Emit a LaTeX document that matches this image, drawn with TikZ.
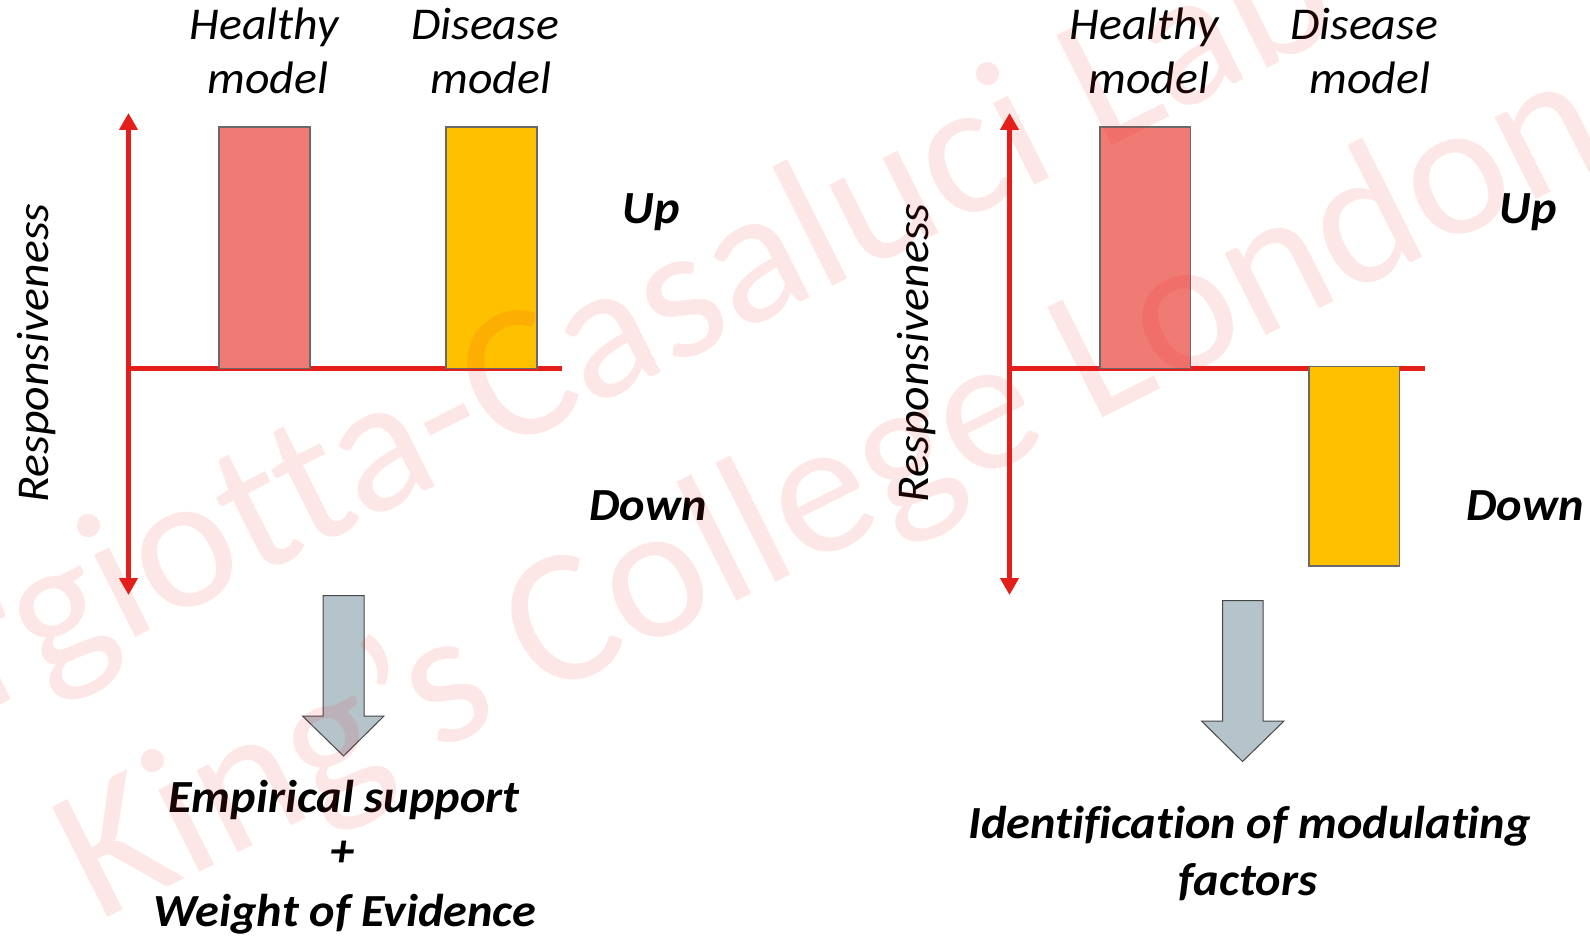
\documentclass[tikz,border=0pt]{standalone}
\usepackage{fontspec}
\setmainfont{Carlito}[FakeStretch=1.05,Ligatures=NoCommon]
\newfontfamily\wmfont{Carlito}[Ligatures=NoCommon]
\usetikzlibrary{arrows.meta}
\definecolor{axisred}{RGB}{227,30,27}
\definecolor{healthfill}{RGB}{240,122,116}
\definecolor{diseasefill}{RGB}{255,192,0}
\definecolor{barline}{RGB}{105,105,105}
\definecolor{blockfill}{RGB}{181,196,203}
\definecolor{blockline}{RGB}{70,70,70}
\definecolor{wmred}{RGB}{245,30,30}

\begin{document}
\begin{tikzpicture}[x=1pt,y=-1pt,
  vaxis/.style={draw=axisred,line width=5.5pt,
    {Triangle[width=18pt,length=17pt]}-{Triangle[width=18pt,length=17pt]}},
  haxis/.style={draw=axisred,line width=5.5pt},
  bar/.style={draw=barline,line width=1.3pt,rectangle,inner sep=0pt,outer sep=0pt},
  block/.style={draw=blockline,line width=1pt,fill=blockfill,line join=miter},
  lbl/.style={inner sep=0pt,font=\itshape\fontsize{45.5}{54}\selectfont},
  ud/.style={inner sep=0pt,font=\bfseries\itshape\fontsize{46}{55}\selectfont},
  wm/.style={inner sep=0pt,text=wmred,text opacity=0.11,rotate=26.7,anchor=base west,
    font=\wmfont\fontsize{192}{232}\selectfont}
]
\useasboundingbox (0,0) rectangle (1590,936);
\fill[white] (0,0) rectangle (1590,936);
\clip (0,0) rectangle (1590,936);

% ---------- left panel: both models respond upward ----------
\coordinate (vtopA) at (128.5,113);
\coordinate (vbotA) at (128.5,595);
\coordinate (horgA) at (128.5,368.5);
\coordinate (hendA) at (562,368.5);
\draw[vaxis] (vtopA) -- (vbotA);
\draw[haxis] (horgA) -- (hendA);

\node[bar,fill=healthfill,anchor=north west,minimum width=91pt,minimum height=241.5pt] (hbarA) at (219,127) {};
\node[bar,fill=diseasefill,anchor=north west,minimum width=91pt,minimum height=241.5pt] (dbarA) at (446,127) {};

\node[lbl,anchor=base] (hA1) at (264,40) {Healthy};
\node[lbl,anchor=base] (hA2) at (268,94) {model};
\node[lbl,anchor=base] (dA1) at (485,40) {Disease};
\node[lbl,anchor=base] (dA2) at (491,94) {model};
\node[ud,anchor=base] (upA) at (651,224) {Up};
\node[ud,anchor=base] (dnA) at (648,520) {Down};
\node[lbl,anchor=base,rotate=90] (rsA) at (48.5,353) {Responsiveness};

\draw[block] (323,595.5) -- (364,595.5) -- (364,716) -- (384,716) -- (343.5,756)
  -- (302.5,716) -- (323,716) -- cycle;

\node[ud,anchor=base] (esA) at (344,812) {Empirical support};
\node[ud,anchor=base] (plA) at (343,866) {+};
\node[ud,anchor=base] (weA) at (345,926) {Weight of Evidence};

% ---------- right panel: disease model responds downward ----------
\coordinate (vtopB) at (1009.5,113);
\coordinate (vbotB) at (1009.5,595);
\coordinate (horgB) at (1009.5,368.5);
\coordinate (hendB) at (1425,368.5);
\draw[vaxis] (vtopB) -- (vbotB);
\draw[haxis] (horgB) -- (hendB);

\node[bar,fill=healthfill,anchor=north west,minimum width=90.5pt,minimum height=241.5pt] (hbarB) at (1100,127) {};
\node[bar,fill=diseasefill,anchor=north west,minimum width=90.5pt,minimum height=199.5pt] (dbarB) at (1309,366.5) {};

\node[lbl,anchor=base] (hB1) at (1144,40) {Healthy};
\node[lbl,anchor=base] (hB2) at (1149,94) {model};
\node[lbl,anchor=base] (dB1) at (1364,40) {Disease};
\node[lbl,anchor=base] (dB2) at (1370,94) {model};
\node[ud,anchor=base] (upB) at (1528,224) {Up};
\node[ud,anchor=base] (dnB) at (1525,520) {Down};
\node[lbl,anchor=base,rotate=90] (rsB) at (928.5,353) {Responsiveness};

\draw[block] (1222.5,600.5) -- (1263,600.5) -- (1263,721) -- (1284,721) -- (1242.5,761.5)
  -- (1201.5,721) -- (1222.5,721) -- cycle;

\node[ud,anchor=base] (idB) at (1249.5,838.5) {Identification of modulating};
\node[ud,anchor=base] (faB) at (1248,895.5) {factors};

% ---------- watermark ----------
\node[wm] (wm1) at (-15,713) {rgiotta-Casaluci Lab};
\node[wm] (wm2) at (97.7,923) {King’s College London};
\end{tikzpicture}
\end{document}
